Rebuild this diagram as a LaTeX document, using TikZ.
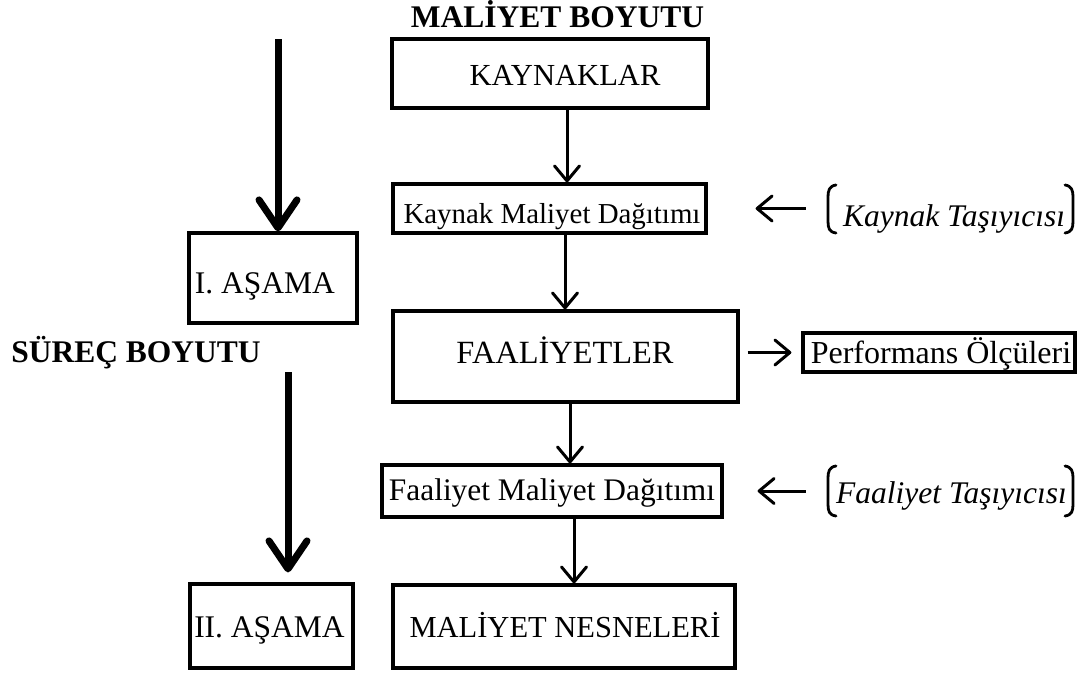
\documentclass[tikz,border=0pt]{standalone}
\usepackage{fontspec}
\setmainfont{Liberation Serif}
\usetikzlibrary{arrows.meta}
\begin{document}
\begin{tikzpicture}[x=1pt,y=-1pt,
  boxnode/.style={draw, line width=3.2pt, inner sep=0pt},
  txt/.style={anchor=base, inner sep=0pt, font=\fontsize{#1}{36}\selectfont},
  txt/.default=30,
  btxt/.style={anchor=base, inner sep=0pt, font=\fontsize{31.5}{36}\selectfont\bfseries},
  itxt/.style={anchor=base, inner sep=0pt, font=\fontsize{31.5}{36}\selectfont\itshape},
  thinarr/.style={line width=3pt, -{Straight Barb[length=15pt,width=25pt,round]}},
  thickarr/.style={line width=7pt, -{Straight Barb[length=28pt,width=38pt,round]}},
  brk/.style={line width=2.8pt, line cap=round}
]
\useasboundingbox (0,0) rectangle (1089,672);

% boxes
\node[boxnode, minimum width=316pt, minimum height=69pt] (kay) at (550,73.5) {};
\node[boxnode, minimum width=313pt, minimum height=49pt] (kmd) at (549.5,208.5) {};
\node[boxnode, minimum width=345pt, minimum height=91pt] (faa) at (565.5,356.5) {};
\node[boxnode, minimum width=272pt, minimum height=39pt] (per) at (939,352.5) {};
\node[boxnode, minimum width=340pt, minimum height=52pt] (fmd) at (552,491) {};
\node[boxnode, minimum width=342pt, minimum height=83pt] (mn) at (564,626.5) {};
\node[boxnode, minimum width=168pt, minimum height=90pt] (a1) at (273,278) {};
\node[boxnode, minimum width=163pt, minimum height=84pt] (a2) at (271.5,626) {};

% texts
\node[btxt] (t-mb) at (557.5,27) {MALİYET BOYUTU};
\node[btxt] (t-sb) at (136,362) {SÜREÇ BOYUTU};
\node[txt=30.6] (t-kay) at (565,85) {KAYNAKLAR};
\node[txt=28.9] (t-kmd) at (552,223) {Kaynak Maliyet Dağıtımı};
\node[txt=32.4] (t-faa) at (565,363) {FAALİYETLER};
\node[txt=32] (t-per) at (941,363) {Performans Ölçüleri};
\node[txt=31.4] (t-fmd) at (552,500) {Faaliyet Maliyet Dağıtımı};
\node[txt=30.5] (t-mn) at (565,637) {MALİYET NESNELERİ};
\node[txt=31.5] (t-a1) at (265,293) {I. AŞAMA};
\node[txt=31.5] (t-a2) at (269.5,637) {II. AŞAMA};
\node[itxt] (kt) at (954,226) {Kaynak Taşıyıcısı};
\node[itxt] (ft) at (951.5,503) {Faaliyet Taşıyıcısı};

% brackets
\draw[brk] (836,185) .. controls (829,186) and (828,191) .. (828,197) -- (828,221) .. controls (828,228) and (829,232) .. (836,233);
\draw[brk] (1065,185) .. controls (1072,186) and (1073,191) .. (1073,197) -- (1073,221) .. controls (1073,228) and (1072,232) .. (1065,233);
\draw[brk] (836,466) .. controls (829,467) and (828,472) .. (828,478) -- (828,504) .. controls (828,511) and (829,515) .. (836,516);
\draw[brk] (1065,466) .. controls (1072,467) and (1073,472) .. (1073,478) -- (1073,504) .. controls (1073,511) and (1072,515) .. (1065,516);

% thin arrows down
\draw[thinarr] ([xshift=17pt]kay.south) -- ([xshift=17pt]kay.south |- kmd.north);
\draw[thinarr] ([xshift=15.5pt]kmd.south) -- ([xshift=15.5pt]kmd.south |- faa.north);
\draw[thinarr] ([xshift=4.5pt]faa.south) -- ([xshift=4.5pt]faa.south |- fmd.north);
\draw[thinarr] ([xshift=22pt]fmd.south) -- ([xshift=22pt]fmd.south |- mn.north);

% side arrows
\draw[thinarr] ([xshift=8pt]faa.east |- per.west) -- ([xshift=-10pt]per.west);
\draw[thinarr] ([xshift=98pt]kmd.east) -- ([xshift=48pt]kmd.east);
\draw[thinarr] ([xshift=82pt]fmd.east) -- ([xshift=34pt]fmd.east);

% thick arrows
\coordinate (s1) at (278,39);
\coordinate (s2) at (288,372);
\draw[thickarr] (s1) -- (s1 |- a1.north);
\draw[thickarr] (s2) -- ([yshift=10pt]s2 |- a2.north);
\end{tikzpicture}
\end{document}
